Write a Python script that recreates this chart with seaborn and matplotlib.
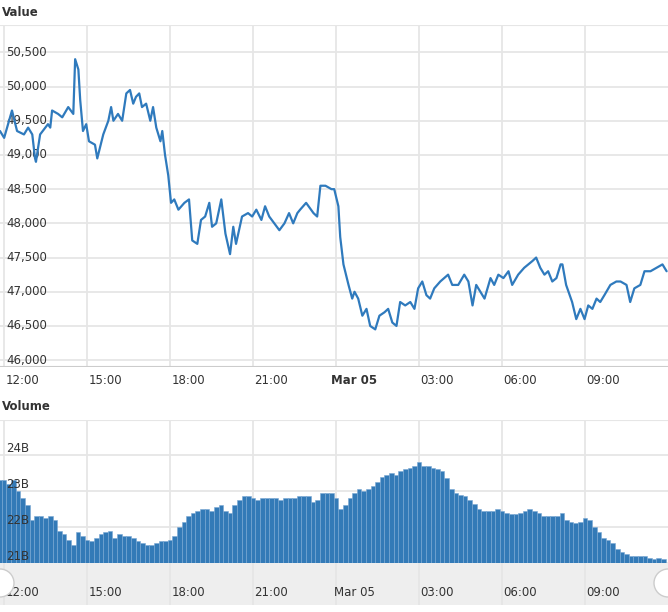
import matplotlib
matplotlib.use("Agg")
import matplotlib.pyplot as plt
import seaborn as sns
import pandas as pd
from matplotlib.patches import Circle

# price line: minutes after 12:00 (Mar 04) and value
price_min = [-9, 0, 17, 28, 43, 52, 61, 67, 69, 78, 95, 100, 104, 117, 126, 139, 150, 154, 161, 165,
             171, 178, 184, 197, 202, 215, 226, 232, 237, 247, 256, 265, 273, 280, 286, 293, 299, 308,
             317, 323, 330, 339, 343, 349, 356, 362, 369, 378, 391, 401, 408, 419, 427, 436, 445, 451,
             460, 471, 480, 490, 497, 503, 516, 529, 538, 547, 558, 566, 575, 597, 608, 618, 627, 636,
             642, 655, 671, 679, 686, 697, 710, 716, 725, 729, 736, 747, 755, 760, 768, 777, 786, 794,
             805, 814, 825, 833, 842, 851, 859, 870, 881, 890, 898, 907, 916, 924, 933, 946, 963, 972,
             985, 998, 1007, 1016, 1024, 1033, 1042, 1055, 1063, 1072, 1083, 1094, 1102, 1115, 1128,
             1146, 1154, 1163, 1172, 1180, 1189, 1198, 1207, 1211, 1219, 1232, 1241, 1250, 1259, 1267,
             1276, 1285, 1293, 1302, 1315, 1328, 1337, 1350, 1358, 1367, 1380, 1389, 1402, 1415, 1428, 1437]
price_val = [49350, 49250, 49650, 49350, 49300, 49400, 49300, 48950, 48900, 49300, 49450, 49400, 49650,
             49600, 49550, 49700, 49600, 50400, 50250, 49800, 49350, 49450, 49200, 49150, 48950, 49300,
             49500, 49700, 49500, 49600, 49500, 49900, 49950, 49750, 49850, 49900, 49700, 49750, 49500,
             49700, 49400, 49200, 49350, 49000, 48700, 48300, 48350, 48200, 48300, 48350, 47750, 47700,
             48050, 48100, 48300, 47950, 48000, 48350, 47850, 47550, 47950, 47700, 48100, 48150, 48100,
             48200, 48050, 48250, 48100, 47900, 48000, 48150, 48000, 48150, 48200, 48300, 48150, 48100,
             48550, 48550, 48500, 48500, 48250, 47800, 47400, 47100, 46900, 47000, 46900, 46650, 46750,
             46500, 46450, 46650, 46700, 46750, 46550, 46500, 46850, 46800, 46850, 46750, 47050, 47150,
             46950, 46900, 47050, 47150, 47250, 47100, 47100, 47250, 47150, 46800, 47100, 47000, 46900,
             47200, 47100, 47250, 47200, 47300, 47100, 47250, 47350, 47450, 47500, 47350, 47250, 47300,
             47150, 47200, 47400, 47400, 47100, 46850, 46600, 46750, 46600, 46800, 46750, 46900, 46850,
             46950, 47100, 47150, 47150, 47100, 46850, 47050, 47100, 47300, 47300, 47350, 47400, 47300]

# volume bars every 10 minutes starting at -10, in billions
vol_start, vol_step = -10, 10
vol_b = [23.3, 23.3, 23.2, 23.3, 23.0, 22.8, 22.6, 22.2, 22.3, 22.3, 22.25, 22.3, 22.2, 21.9, 21.8,
         21.65, 21.5, 21.85, 21.75, 21.65, 21.6, 21.7, 21.8, 21.85, 21.9, 21.7, 21.8, 21.75, 21.75,
         21.7, 21.6, 21.55, 21.5, 21.5, 21.55, 21.6, 21.6, 21.65, 21.75, 22.0, 22.15, 22.3, 22.4,
         22.45, 22.5, 22.5, 22.45, 22.55, 22.6, 22.45, 22.4, 22.6, 22.75, 22.85, 22.85, 22.8, 22.75,
         22.8, 22.8, 22.8, 22.8, 22.75, 22.8, 22.8, 22.8, 22.85, 22.85, 22.85, 22.7, 22.75, 22.95,
         22.95, 22.95, 22.8, 22.5, 22.6, 22.8, 22.95, 23.05, 23.0, 23.05, 23.15, 23.25, 23.4, 23.45,
         23.5, 23.45, 23.55, 23.6, 23.65, 23.7, 23.8, 23.7, 23.7, 23.65, 23.6, 23.55, 23.35, 23.05,
         22.95, 22.9, 22.85, 22.75, 22.65, 22.5, 22.45, 22.45, 22.45, 22.5, 22.45, 22.4, 22.35, 22.35,
         22.4, 22.45, 22.5, 22.45, 22.4, 22.3, 22.3, 22.3, 22.3, 22.4, 22.2, 22.15, 22.1, 22.15, 22.25,
         22.2, 22.0, 21.85, 21.7, 21.65, 21.55, 21.4, 21.3, 21.25, 21.2, 21.2, 21.2, 21.2, 21.15, 21.1,
         21.15, 21.1]

tick_min = [0, 180, 360, 540, 720, 900, 1080, 1260]
tick_lbl = ['12:00', '15:00', '18:00', '21:00', 'Mar 05', '03:00', '06:00', '09:00']
value_ticks = [46000, 46500, 47000, 47500, 48000, 48500, 49000, 49500, 50000, 50500]
vol_ticks = [21, 22, 23, 24]

sns.set_style('white')
plt.rcParams['font.family'] = 'DejaVu Sans'
W, H = 668, 612
fig = plt.figure(figsize=(W / 100, H / 100), dpi=100)
GRID = '#e6e6e6'
LINE = '#2f7abd'
XMIN, XMAX = -9, 1440
LX = 6 / W  # label x in axes fraction


def rect(top, bottom):
    return [0, 1 - bottom / H, 1, (bottom - top) / H]


def style(ax):
    for s in ax.spines.values():
        s.set_visible(False)
    ax.set_xlim(XMIN, XMAX)
    ax.set_xticks([])
    ax.set_yticks([])
    ax.set_xlabel('')
    ax.set_ylabel('')
    for m in tick_min:
        ax.axvline(m, color=GRID, lw=1.3, zorder=0)


# price panel
ax1 = fig.add_axes(rect(25, 367))
df = pd.DataFrame({'t': price_min, 'v': price_val})
sns.lineplot(data=df, x='t', y='v', ax=ax1, color=LINE, lw=1.6, zorder=3)
ax1.set_ylim(45900, 50900)
style(ax1)
for v in value_ticks:
    ax1.axhline(v, color=GRID, lw=1.3, zorder=0)
    ax1.text(LX, v, f'{v:,}', transform=ax1.get_yaxis_transform(), fontsize=8.5,
             color='#333333', va='center', ha='left', zorder=2)
ax1.axhline(50900, color=GRID, lw=1.5)
ax1.axhline(45900, color='#cccccc', lw=1.5)
for m, l in zip(tick_min, tick_lbl):
    fig.text((m + 39 - XMIN) / (XMAX - XMIN), 1 - 380 / H, l, fontsize=8.5, ha='center',
             va='center', color='#333333', fontweight='bold' if l.startswith('Mar') else 'normal')
fig.text(0.003, 1 - 12 / H, 'Value', fontsize=8.5, fontweight='bold', va='center', color='#333333')

# volume panel
ax2 = fig.add_axes(rect(420, 563))
vol_t = [vol_start + i * vol_step for i in range(len(vol_b))]
ax2.bar(vol_t, vol_b, width=vol_step, color='#337ab7', edgecolor='#7aa8d4', linewidth=0.4, zorder=3)
ax2.set_ylim(21, 24.97)
style(ax2)
for v in vol_ticks:
    ax2.axhline(v, color=GRID, lw=1.3, zorder=0)
    ax2.text(LX, v + 0.18, f'{v}B', transform=ax2.get_yaxis_transform(), fontsize=8.5,
             color='#333333', va='center', ha='left', zorder=4)
ax2.axhline(24.97, color=GRID, lw=1.5)
fig.text(0.003, 1 - 407 / H, 'Volume', fontsize=8.5, fontweight='bold', va='center', color='#333333')

# navigator strip
ax3 = fig.add_axes(rect(563, 605))
ax3.set_facecolor('#eeeeee')
style(ax3)
ax3.set_ylim(0, 1)
for m, l in zip(tick_min, tick_lbl):
    ax3.text(m + 39, 0.3, l, fontsize=8.5, ha='center', va='center', color='#333333')
for xpix in (0, W):
    fig.patches.append(Circle((xpix, H - 583), 14, transform=None,
                              facecolor='white', edgecolor='#cccccc', lw=1, zorder=5))

fig.savefig('out.png', dpi=100)
